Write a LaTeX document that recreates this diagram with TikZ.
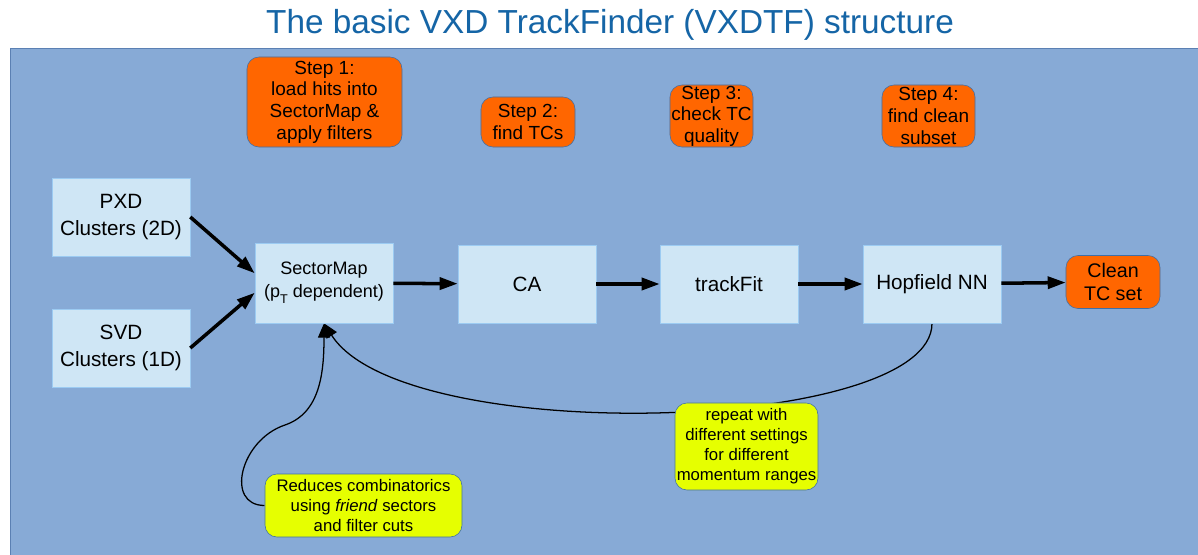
\documentclass[tikz,border=0pt]{standalone}
\usepackage{fontspec}
\setmainfont{Liberation Sans}
\usetikzlibrary{arrows.meta}
\definecolor{bgblue}{HTML}{87AAD6}
\definecolor{bgline}{HTML}{5B80B3}
\definecolor{titleblue}{HTML}{1565A6}
\definecolor{boxfill}{HTML}{CFE6F5}
\definecolor{boxline}{HTML}{9CCBF2}
\definecolor{stepfill}{HTML}{FF6600}
\definecolor{noteline}{HTML}{3F6FA8}
\definecolor{notefill}{HTML}{E6FF00}
\pgfdeclarelayer{back}
\pgfdeclarelayer{lines}
\pgfsetlayers{back,lines,main}
\tikzset{
  mainbox/.style={draw=boxline, fill=boxfill, inner sep=1pt, align=center,
    minimum width=3.45cm, minimum height=1.95cm,
    font=\fontsize{14.7}{19}\selectfont},
  stepbox/.style={draw=noteline, fill=stepfill, rounded corners=0.3cm,
    inner sep=0pt, align=center, font=\fontsize{13.5}{15.4}\selectfont},
  notebox/.style={draw=noteline, fill=notefill, rounded corners=0.3cm,
    inner sep=1pt, align=center, font=\fontsize{11.9}{14.3}\selectfont},
  flow/.style={line width=2.5pt, -{Triangle[length=4.5mm,width=3mm]}},
  loopback/.style={line width=0.9pt, -{Triangle[length=3.6mm,width=3mm]}}
}
\begin{document}
\begin{tikzpicture}[x=0.025cm, y=-0.025cm]
  \useasboundingbox (0,0) rectangle (1198,554);
  \begin{pgfonlayer}{back}
    \fill[white] (0,0) rectangle (1198,554);
    \draw[bgline, fill=bgblue] (10,48) rectangle (1210,570);
  \end{pgfonlayer}
  \node[titleblue, font=\fontsize{23.7}{28}\selectfont] (title) at (610,25)
    {The basic VXD TrackFinder (VXDTF) structure};
  % steps
  \node[stepbox, minimum width=3.875cm, minimum height=2.25cm] (step1) at (324.5,102)
    {Step 1:\\load hits into\\SectorMap \&\\apply filters};
  \node[stepbox, minimum width=2.35cm, minimum height=1.25cm] (step2) at (528,122)
    {Step 2:\\find TCs};
  \node[stepbox, minimum width=2.075cm, minimum height=1.55cm] (step3) at (711.5,116)
    {Step 3:\\check TC\\quality};
  \node[stepbox, minimum width=2.325cm, minimum height=1.55cm] (step4) at (928.5,116)
    {Step 4:\\find clean\\subset};
  % main chain
  \node[mainbox] (pxd) at (121,217) {PXD\\Clusters (2D)};
  \node[mainbox] (svd) at (121,348) {SVD\\Clusters (1D)};
  \node[mainbox, minimum height=2cm, font=\fontsize{12.8}{16}\selectfont] (sm) at (324,283)
    {SectorMap\\(p\raisebox{-0.7ex}{\fontsize{9}{9}\selectfont T} dependent)};
  \node[mainbox] (ca) at (527,284) {CA};
  \node[mainbox] (fit) at (729,284) {trackFit};
  \node[mainbox] (hop) at (932,284) {Hopfield NN};
  \node[stepbox, minimum width=2.35cm, minimum height=1.325cm, font=\fontsize{14}{16.5}\selectfont]
    (clean) at (1113,282) {Clean\\TC set};
  % notes
  \node[notebox, minimum width=4.925cm, minimum height=1.575cm] (friend) at (363.5,505.5)
    {Reduces combinatorics\\using \textit{friend} sectors\\and filter cuts};
  \node[notebox, minimum width=3.575cm, minimum height=2.175cm] (repeat) at (746.5,446.5)
    {repeat with\\different settings\\for different\\momentum ranges};
  \draw[flow] (pxd.east) -- (sm.172);
  \draw[flow] (svd.east) -- (sm.188);
  \draw[flow] (sm) -- (ca);
  \draw[flow] (ca) -- (fit);
  \draw[flow] (fit) -- (hop);
  \draw[flow] (hop) -- (clean);
  \coordinate (bend) at (285,425);
  \begin{pgfonlayer}{lines}
    \draw[loopback] (hop.south) .. controls +(0,110) and +(80,125) .. (sm.south);
    \draw[loopback] (friend.west) .. controls +(-40,0) and +(-45,15) .. (bend)
      .. controls +(35,-12) and +(0,50) .. (sm.south);
  \end{pgfonlayer}
\end{tikzpicture}
\end{document}
